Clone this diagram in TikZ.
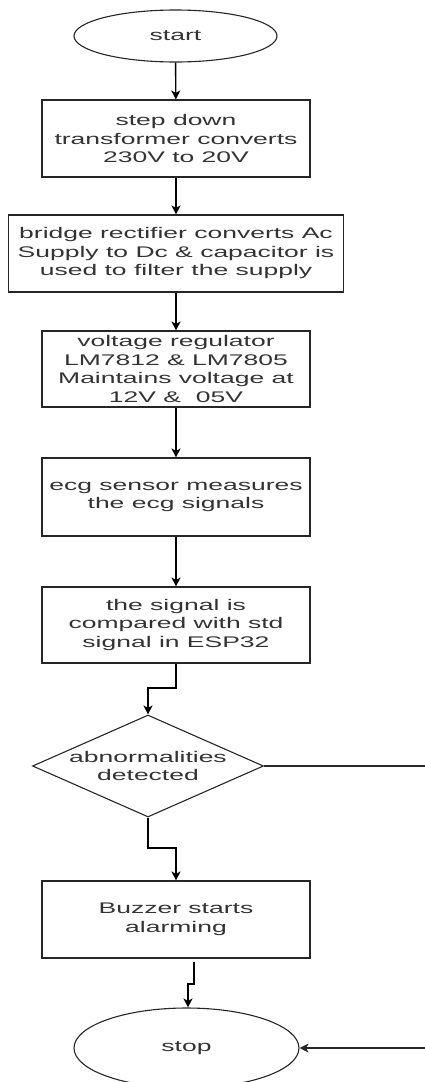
\documentclass[tikz,border=0pt]{standalone}
\usepackage{fontspec}
\setmainfont{Liberation Sans}[FakeStretch=1.72]
\usetikzlibrary{shapes.geometric,arrows.meta}
\begin{document}
\begin{tikzpicture}[x=1pt,y=-1pt,
  every node/.style={font=\fontsize{15.4}{18.5}\selectfont, text=black!80, align=center, inner sep=0pt, line width=1.1pt, draw=black!85},
  procbox/.style={rectangle, minimum width=268pt, minimum height=77pt},
  term/.style={ellipse},
  decide/.style={diamond, aspect=2.26, minimum width=231pt, minimum height=102pt},
  label/.style={draw=none},
  conn/.style={line width=1.4pt, draw=black, -{Stealth[length=9pt,width=9pt,inset=2.5pt]}},
  plainline/.style={line width=1.1pt, draw=black!85}
]
\useasboundingbox (0,0) rectangle (425,1082);
\clip (0,0) rectangle (425,1082);

\node[term, minimum width=203pt, minimum height=52pt] (start) at (175.5,36) {start};
\node[procbox] (b1) at (176,138.5) {step down\\transformer converts\\230V to 20V};
\node[procbox, minimum width=335pt] (b2) at (176,253.5) {bridge rectifier converts Ac\\Supply to Dc \& capacitor is\\used to filter the supply};
\node[procbox, minimum height=76pt] (b3) at (176,369) {voltage regulator\\LM7812 \& LM7805\\Maintains voltage at\\12V \&\ \ 05V};
\node[procbox, minimum height=78pt] (b4) at (176,497) {ecg sensor measures\\the ecg signals};
\node[procbox, minimum height=76pt] (b5) at (176,625) {the signal is\\compared with std\\signal in ESP32};
\node[decide] (d) at (148,766) {};
\node[label] (dtext) at (d.center) {abnormalities\\detected};
\node[procbox] (b6) at (176,919.5) {Buzzer starts\\alarming};
\node[term, minimum width=225pt, minimum height=80pt] (stop) at (186.5,1048) {stop};

\coordinate (j1) at (176,688);
\coordinate (j2) at (148,848);
\coordinate (s6) at (194,962);
\coordinate (j3) at (194,984);
\coordinate (far) at (440,766);

\draw[conn] (start) -- (b1);
\draw[conn] (b1) -- (b2);
\draw[conn] (b2) -- (b3);
\draw[conn] (b3) -- (b4);
\draw[conn] (b4) -- (b5);
\draw[conn] (b5.south) -- (j1) -| (d.north);
\draw[conn] (d.south) -- (j2) -| (b6.north);
\draw[conn] (s6) -- (j3) -| ([xshift=1.5pt]stop.north);
\draw[plainline, -{Stealth[length=9pt,width=9pt,inset=2.5pt]}] (d.east) -- (far) |- (stop.east);
\end{tikzpicture}
\end{document}
